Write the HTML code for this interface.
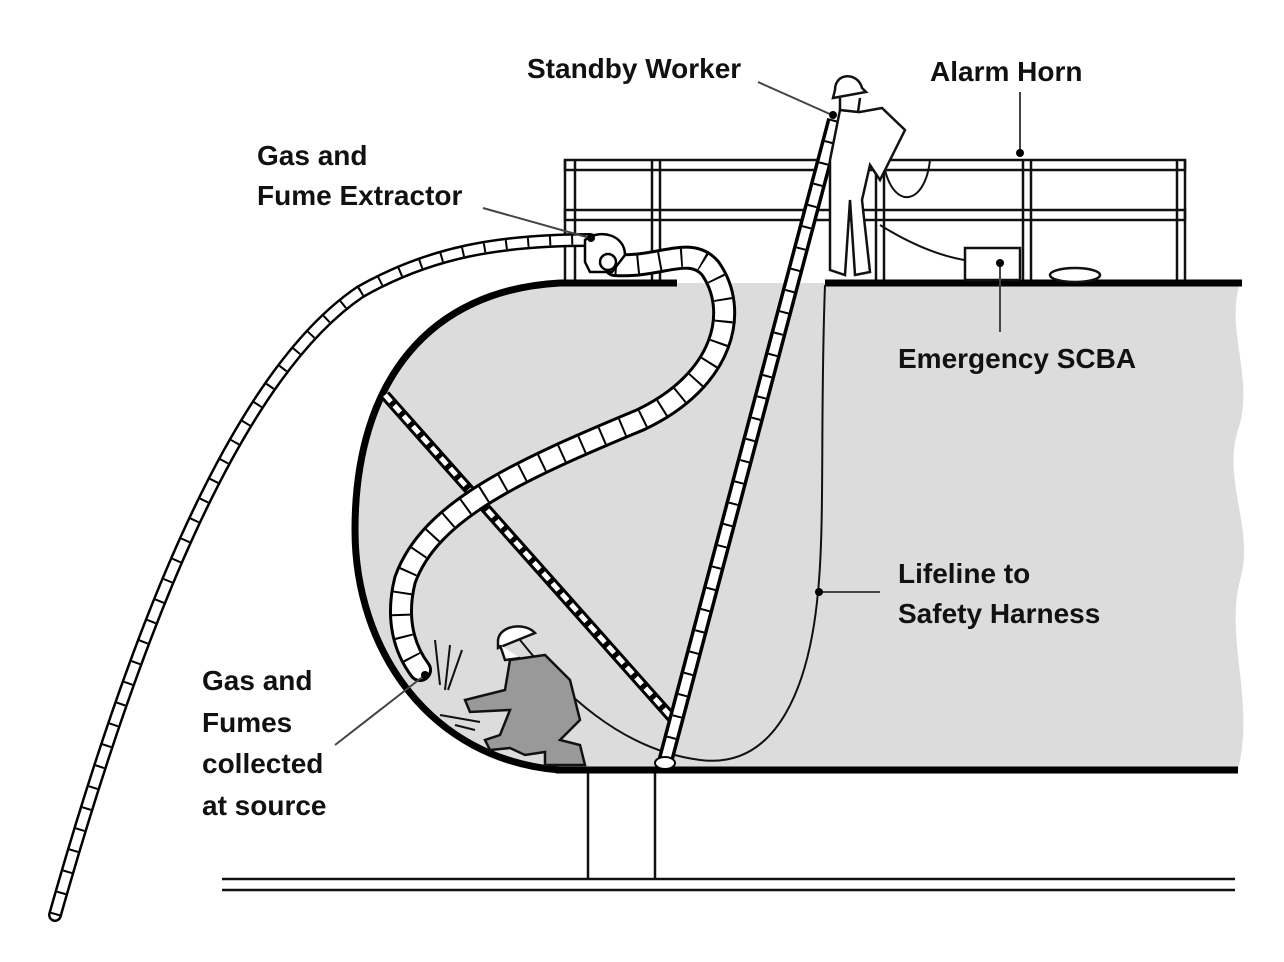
<!DOCTYPE html>
<html><head><meta charset="utf-8"><style>
html,body{margin:0;padding:0;background:#fff;}
svg{display:block;}
text{font-family:"Liberation Sans",sans-serif;font-weight:bold;font-size:28px;fill:#111;}
</style></head><body>
<svg width="1284" height="962" viewBox="0 0 1284 962" xmlns="http://www.w3.org/2000/svg">
<path d="M560,283 L1240,283 C1225,330 1255,380 1238,430 C1222,480 1255,530 1240,580 C1225,640 1255,700 1238,770 L560,770 C430,760 355,650 355,530 C355,380 430,290 560,283 Z" fill="#dcdcdc"/>
<line x1="588" y1="770" x2="588" y2="880" stroke="#111" stroke-width="2.5"/>
<line x1="655" y1="770" x2="655" y2="880" stroke="#111" stroke-width="2.5"/>
<line x1="222" y1="879" x2="1235" y2="879" stroke="#111" stroke-width="2.5"/>
<line x1="222" y1="890" x2="1235" y2="890" stroke="#111" stroke-width="2.5"/>
<g fill="none" stroke="#111" stroke-width="2.5">
<rect x="565" y="160" width="620" height="10"/>
<rect x="565" y="210" width="620" height="10"/>
<line x1="565" y1="160" x2="565" y2="283"/><line x1="575" y1="160" x2="575" y2="283"/>
<line x1="652" y1="160" x2="652" y2="283"/><line x1="660" y1="160" x2="660" y2="283"/>
<line x1="876" y1="160" x2="876" y2="283"/><line x1="884" y1="160" x2="884" y2="283"/>
<line x1="1023" y1="160" x2="1023" y2="283"/><line x1="1031" y1="160" x2="1031" y2="283"/>
<line x1="1177" y1="160" x2="1177" y2="283"/><line x1="1185" y1="160" x2="1185" y2="283"/>
</g>
<path d="M677,283 L560,283 C430,290 355,380 355,530 C355,650 430,760 560,770" fill="none" stroke="#000" stroke-width="7"/>
<line x1="825" y1="283" x2="1242" y2="283" stroke="#000" stroke-width="7"/>
<line x1="556" y1="770" x2="1238" y2="770" stroke="#000" stroke-width="7"/>
<line x1="385" y1="395" x2="672" y2="718" stroke="#000" stroke-width="11"/>
<line x1="385" y1="395" x2="672" y2="718" stroke="#fff" stroke-width="5" stroke-dasharray="9 5"/>
<path d="M825,285 C820,420 825,520 818,592 C810,680 780,770 700,760 C620,750 560,690 520,640" fill="none" stroke="#111" stroke-width="2"/>
<path d="M880,225 C920,250 960,265 1000,262" fill="none" stroke="#111" stroke-width="2"/>
<path d="M885,170 C895,210 925,205 930,160" fill="none" stroke="#111" stroke-width="2"/>
<line x1="835" y1="120" x2="665" y2="762" stroke="#000" stroke-width="16"/>
<line x1="835" y1="120" x2="665" y2="762" stroke="#fff" stroke-width="9"/>
<line x1="835" y1="120" x2="665" y2="762" stroke="#000" stroke-width="9" stroke-dasharray="2 20"/>
<ellipse cx="665" cy="763" rx="10" ry="6" fill="#fff" stroke="#000" stroke-width="2"/>
<g fill="none" stroke-linecap="round">
<path d="M55,915 C130,650 230,380 360,292 C430,252 500,240 590,240" stroke="#000" stroke-width="14"/>
<path d="M55,915 C130,650 230,380 360,292 C430,252 500,240 590,240" stroke="#fff" stroke-width="9"/>
<path d="M55,915 C130,650 230,380 360,292 C430,252 500,240 590,240" stroke="#000" stroke-width="9" stroke-dasharray="2 20" stroke-linecap="butt"/>
<path d="M615,265 C660,268 690,245 710,268 C740,310 725,380 640,420 C520,470 430,510 405,580 C395,620 405,650 420,670" stroke="#000" stroke-width="24"/>
<path d="M615,265 C660,268 690,245 710,268 C740,310 725,380 640,420 C520,470 430,510 405,580 C395,620 405,650 420,670" stroke="#fff" stroke-width="18"/>
<path d="M615,265 C660,268 690,245 710,268 C740,310 725,380 640,420 C520,470 430,510 405,580 C395,620 405,650 420,670" stroke="#000" stroke-width="18" stroke-dasharray="2 20" stroke-linecap="butt"/>
</g>
<path d="M585,262 L585,240 C600,228 625,235 625,255 L612,272 L590,272 Z" fill="#fff" stroke="#000" stroke-width="2.5"/>
<circle cx="608" cy="262" r="8" fill="#fff" stroke="#000" stroke-width="2.5"/>
<rect x="965" y="248" width="55" height="32" fill="#fff" stroke="#111" stroke-width="2.5"/>
<ellipse cx="1075" cy="275" rx="25" ry="7" fill="#fff" stroke="#111" stroke-width="2.5"/>
<g fill="#fff" stroke="#111" stroke-width="2.5">
<path d="M840,110 L830,160 L830,270 L845,275 L850,200 L855,275 L870,272 L862,200 L870,165 L880,180 L905,130 L882,108 L860,112 Z"/>
<path d="M835,90 C835,72 858,72 862,88 L866,92 L833,98 Z"/>
<path d="M840,98 L840,110 L858,112 L860,98"/>
</g>
<g stroke="#111" stroke-width="2.5">
<path d="M510,660 L545,655 L570,680 L580,720 L560,740 L580,745 L585,765 L545,765 L545,752 L525,755 L510,748 L490,750 L485,740 L500,735 L510,710 L470,712 L465,700 L505,690 Z" fill="#999"/>
<path d="M498,640 C500,625 525,622 535,633 L498,648 Z" fill="#fff"/>
<path d="M500,645 L505,660 L520,658" fill="#fff"/>
</g>
<g stroke="#111" stroke-width="2">
<line x1="435" y1="640" x2="440" y2="685"/><line x1="450" y1="645" x2="445" y2="690"/><line x1="462" y1="650" x2="448" y2="690"/>
<line x1="440" y1="715" x2="480" y2="722"/><line x1="455" y1="725" x2="475" y2="730"/>
</g>
<g stroke="#444" stroke-width="2" fill="none">
<line x1="758" y1="82" x2="832" y2="115"/>
<line x1="1020" y1="92" x2="1020" y2="152"/>
<line x1="483" y1="208" x2="590" y2="238"/>
<line x1="1000" y1="262" x2="1000" y2="332"/>
<line x1="820" y1="592" x2="880" y2="592"/>
<line x1="335" y1="745" x2="425" y2="675"/>
</g>
<g fill="#000">
<circle cx="833" cy="115" r="4"/><circle cx="1020" cy="153" r="4"/><circle cx="591" cy="238" r="4"/>
<circle cx="1000" cy="263" r="4"/><circle cx="819" cy="592" r="4"/><circle cx="425" cy="675" r="4"/>
</g>
<text x="527" y="78">Standby Worker</text>
<text x="930" y="81">Alarm Horn</text>
<text x="257" y="165">Gas and</text>
<text x="257" y="205">Fume Extractor</text>
<text x="898" y="368">Emergency SCBA</text>
<text x="898" y="583">Lifeline to</text>
<text x="898" y="623">Safety Harness</text>
<text x="202" y="690">Gas and</text>
<text x="202" y="732">Fumes</text>
<text x="202" y="773">collected</text>
<text x="202" y="815">at source</text>
</svg>
</body></html>
